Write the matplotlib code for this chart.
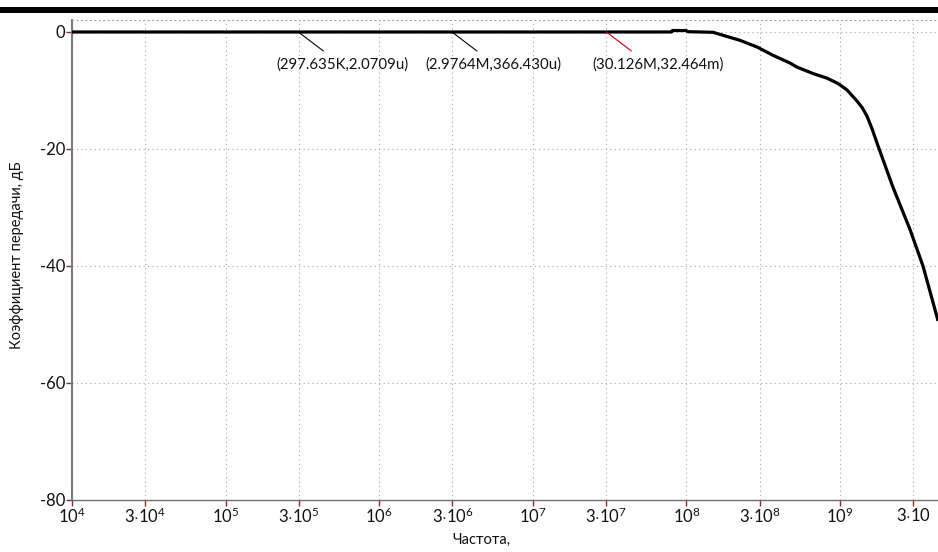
import matplotlib
matplotlib.use("Agg")
import matplotlib.pyplot as plt
from matplotlib.patches import Rectangle

# ---- data ----
freq_hz = [1e4, 1e5, 1e6, 1e7, 5.0e7, 8.0e7, 8.1e7, 9.9e7, 1.03e8, 1.49e8, 1.73e8, 2.23e8,
           2.88e8, 3.66e8, 4.72e8, 5.25e8, 6.67e8, 8.24e8, 9.71e8, 1.11e9, 1.29e9, 1.4e9,
           1.5e9, 1.62e9, 1.77e9, 2.21e9, 2.86e9, 3.47e9, 4.28e9, 4.35e9]
gain_db = [0.0, 0.0, 0.0, 0.0, 0.0, 0.0, 0.25, 0.25, 0.05, -0.05, -0.56, -1.42,
           -2.56, -3.98, -5.3, -6.0, -7.1, -7.9, -8.8, -9.9, -11.8, -13.0,
           -14.4, -16.6, -19.5, -26.5, -33.8, -40.0, -48.7, -49.4]

xtick_vals = [1e4, 3e4, 1e5, 3e5, 1e6, 3e6, 1e7, 3e7, 1e8, 3e8, 1e9, 3e9]
xtick_labels = [r'$10^{4}$', r'$3{\cdot}10^{4}$', r'$10^{5}$', r'$3{\cdot}10^{5}$',
                r'$10^{6}$', r'$3{\cdot}10^{6}$', r'$10^{7}$', r'$3{\cdot}10^{7}$',
                r'$10^{8}$', r'$3{\cdot}10^{8}$', r'$10^{9}$', r'$3{\cdot}10$']
ytick_vals = [0, -20, -40, -60, -80]

marker_freq = [297.635e3, 2.9764e6, 30.126e6]
marker_gain = [0.0, 0.0, 0.0]
marker_text = ['(297.635K,2.0709u)', '(2.9764M,366.430u)', '(30.126M,32.464m)']
marker_color = ['#000000', '#000000', '#cc0000']
marker_dx = [44, 41, 52]

x_label = 'Частота,'
y_label = 'Коэффициент передачи, дБ'

# ---- style ----
plt.rcParams['font.family'] = ['Lato', 'DejaVu Sans']
plt.rcParams['mathtext.fontset'] = 'custom'
plt.rcParams['mathtext.rm'] = 'Lato'
plt.rcParams['mathtext.it'] = 'Lato:italic'
plt.rcParams['mathtext.bf'] = 'Lato:bold'

W, H = 938, 552
fig = plt.figure(figsize=(W / 100, H / 100), dpi=100)
fig.patch.set_facecolor('white')

ax = fig.add_axes([72 / W, (H - 500) / H, (W - 72) / W, 480 / H])
ax.set_xscale('log')
ax.set_xlim(1e4, 10 ** (4 + 866 / 153.6))
ax.set_ylim(-80, 2.05)

grid_color = '#b79d9d'
ax.set_xticks(xtick_vals)
ax.set_xticklabels(xtick_labels)
ax.xaxis.set_minor_locator(matplotlib.ticker.NullLocator())
ax.set_yticks(ytick_vals)
ax.set_yticklabels([str(v) for v in ytick_vals])
ax.tick_params(axis='both', direction='out', length=4, width=1, color='#8b2a2a',
               labelsize=12, labelcolor='#111111', pad=1)
ax.grid(True, which='major', color=grid_color, linestyle=(0, (1, 3)), linewidth=0.8)

ax.spines['right'].set_visible(False)
ax.spines['top'].set_color(grid_color)
ax.spines['top'].set_linestyle((0, (1, 3)))
ax.spines['top'].set_linewidth(0.8)
ax.spines['left'].set_color('#7a7a7a')
ax.spines['left'].set_linewidth(1.5)
ax.spines['bottom'].set_color('#707070')
ax.spines['bottom'].set_linewidth(1.0)

ax.plot(freq_hz, gain_db, color='black', linewidth=2.3, solid_joinstyle='round',
        solid_capstyle='butt', zorder=5)

for f, g, t, c, dx in zip(marker_freq, marker_gain, marker_text, marker_color, marker_dx):
    ax.annotate('', xy=(f, g), xytext=(25, -19), textcoords='offset pixels',
                arrowprops=dict(arrowstyle='-', color=c, lw=0.8, shrinkA=0, shrinkB=0),
                zorder=6)
    ax.annotate(t, xy=(f, g), xytext=(dx, -33), textcoords='offset pixels',
                ha='center', va='center', fontsize=10.8, color='#111111', zorder=6)

fig.text(481 / W, (H - 540) / H, x_label, ha='center', va='center', fontsize=10.5, color='#111111')
fig.text(17 / W, (H - 255) / H, y_label, ha='center', va='center', rotation=90,
         fontsize=10.5, color='#111111')

fig.patches.append(Rectangle((0, (H - 13) / H), 1, 6 / H, transform=fig.transFigure,
                             facecolor='black', edgecolor='none', zorder=10))

fig.savefig('out.png', dpi=100)
